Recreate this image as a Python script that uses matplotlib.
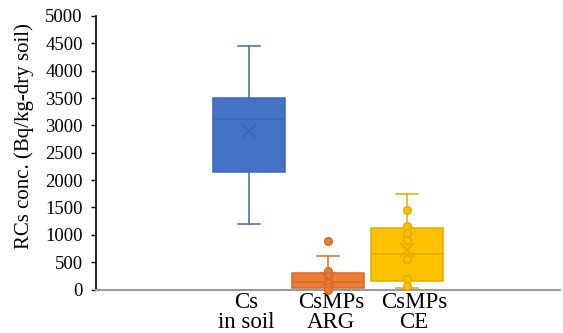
import matplotlib
matplotlib.use("Agg")
import matplotlib.pyplot as plt
import numpy as np

plt.rcParams['font.family'] = ['Liberation Serif', 'DejaVu Serif']

# ---- data ----
categories = ["Cs\nin soil", "CsMPs\nARG", "CsMPs\nCE"]
whislo = [1190, 0, 20]
q1 = [2140, 30, 160]
med = [3110, 140, 645]
q3 = [3500, 305, 1120]
whishi = [4460, 620, 1750]
means = [2900, 200, 720]
fliers_cs = []
fliers_arg = [880]
fliers_ce = []
points_cs = []
points_arg = [340, 240, 140, 45, 0]
points_ce = [1460, 1160, 1030, 900, 560, 195, 60]
yticks = [0, 500, 1000, 1500, 2000, 2500, 3000, 3500, 4000, 4500, 5000]

# ---- style ----
fills = ['#4472C4', '#ED7D31', '#FFC000']
lines = ['#3A65B5', '#D9692A', '#E3AA00']
positions = [-1, 0, 1]
label_pos = [-1.04, 0.04, 1.09]

fig = plt.figure(figsize=(5.63, 3.33), dpi=100)
ax = fig.add_axes([96/563, 1-289.5/333, 464/563, (289.5-16)/333])

fliers = [fliers_cs, fliers_arg, fliers_ce]
points = [points_cs, points_arg, points_ce]
for i in range(3):
    st = [dict(whislo=whislo[i], q1=q1[i], med=med[i], q3=q3[i],
               whishi=whishi[i], mean=means[i], fliers=fliers[i])]
    ax.bxp(st, positions=[positions[i]], widths=0.91, capwidths=0.27,
           patch_artist=True, showmeans=False, showfliers=False,
           boxprops=dict(facecolor=fills[i], edgecolor=lines[i], linewidth=1.1),
           medianprops=dict(color=lines[i], linewidth=1.1),
           whiskerprops=dict(color=lines[i], linewidth=1.1),
           capprops=dict(color=lines[i], linewidth=1.1),
           manage_ticks=False)
    # inner points
    if points[i]:
        ax.plot([positions[i]]*len(points[i]), points[i], 'o', ms=5.5,
                mfc=fills[i], mec=lines[i], mew=1.0, clip_on=False, zorder=4)
    if fliers[i]:
        ax.plot([positions[i]]*len(fliers[i]), fliers[i], 'o', ms=5.5,
                mfc=fills[i], mec=lines[i], mew=1.0, clip_on=False, zorder=4)
    # mean marker
    ax.plot([positions[i]], [means[i]], 'x', ms=10, mec=lines[i], mew=1.2,
            zorder=5, clip_on=False)

ax.set_xlim(-2.937, 2.937)
ax.set_ylim(0, 5000)
ax.set_yticks(yticks)
ax.set_yticklabels([str(v) for v in yticks], fontsize=13.5)
ax.tick_params(axis='y', direction='out', length=3.5, width=1, pad=6)
ax.set_xticks(label_pos)
ax.set_xticklabels(categories, fontsize=16.5, linespacing=0.95)
ax.tick_params(axis='x', length=0, pad=2)

for s in ['top', 'right']:
    ax.spines[s].set_visible(False)
ax.spines['left'].set_color('black')
ax.spines['left'].set_linewidth(1.2)
ax.spines['bottom'].set_color('#999999')
ax.spines['bottom'].set_linewidth(1.5)

ax.set_ylabel("RCs conc. (Bq/kg-dry soil)", fontsize=15, labelpad=6)
ax.yaxis.set_label_coords(-0.134, 0.56)

fig.savefig("out.png", dpi=100)
